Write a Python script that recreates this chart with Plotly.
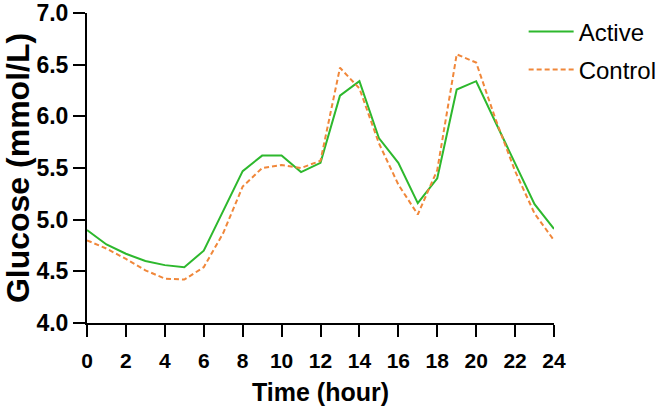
import plotly.graph_objects as go

hours = list(range(0, 25))
active = [4.90, 4.76, 4.67, 4.60, 4.56, 4.54, 4.70, 5.08, 5.47, 5.62, 5.62, 5.46, 5.55,
          6.20, 6.34, 5.79, 5.55, 5.16, 5.40, 6.26, 6.34, 5.94, 5.54, 5.15, 4.91]
control = [4.80, 4.72, 4.62, 4.51, 4.43, 4.42, 4.54, 4.87, 5.32, 5.50, 5.53, 5.50, 5.57,
           6.47, 6.27, 5.74, 5.34, 5.05, 5.48, 6.60, 6.52, 5.97, 5.47, 5.06, 4.80]
x_ticks = list(range(0, 25, 2))
y_ticks = [4.0, 4.5, 5.0, 5.5, 6.0, 6.5, 7.0]

FONT = "Liberation Sans, Arial, sans-serif"

fig = go.Figure()
fig.add_trace(go.Scatter(x=hours, y=active, mode="lines", name="Active",
                         legendgroup="a",
                         line=dict(color="#2db82d", width=2)))
fig.add_trace(go.Scatter(x=hours, y=control, mode="lines", name="Control",
                         legendgroup="c",
                         line=dict(color="#f0873a", width=2, dash="5px,3px")))

fig.update_layout(
    width=664, height=411,
    margin=dict(l=87, r=110, t=13, b=88, autoexpand=False),
    plot_bgcolor="white", paper_bgcolor="white",
    font=dict(family=FONT, color="black"),
    showlegend=True,
    legend=dict(x=0.935, y=1.012, xanchor="left", yanchor="top",
                font=dict(size=24, color="black", family=FONT),
                tracegroupgap=4, traceorder="grouped", itemwidth=45,
                bgcolor="rgba(0,0,0,0)"),
    xaxis=dict(range=[0, 24], tickvals=x_ticks, ticktext=[str(v) for v in x_ticks],
               automargin=False,
               showgrid=False, zeroline=False, showline=True, linecolor="black",
               linewidth=2, ticks="outside", ticklen=12, tickwidth=2, tickcolor="black",
               ticklabelstandoff=6,
               tickfont=dict(size=21, family=FONT, weight="bold"),
               title=dict(text="<b>Time (hour)</b>", font=dict(size=25, family=FONT),
                          standoff=12)),
    yaxis=dict(range=[4.0, 7.0], tickvals=y_ticks, ticktext=[f"{v:.1f}" for v in y_ticks],
               automargin=False,
               showgrid=False, zeroline=False, showline=True, linecolor="black",
               linewidth=2, ticks="outside", ticklen=12, tickwidth=2, tickcolor="black",
               tickfont=dict(size=23, family=FONT, weight="bold"),
               title=dict(text="<b>Glucose (mmol/L)</b>", font=dict(size=32, family=FONT),
                          standoff=4)),
)

fig.write_html("out.html")
